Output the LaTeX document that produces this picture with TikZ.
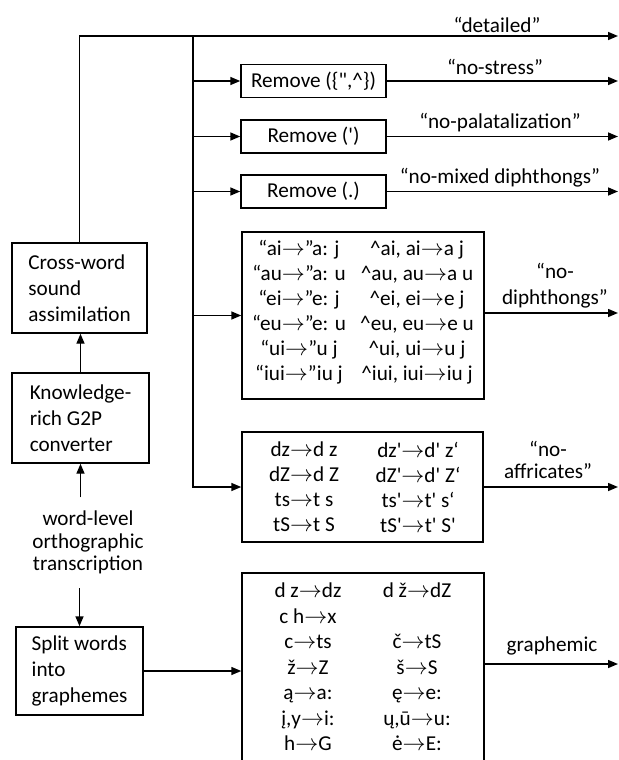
\documentclass[tikz,border=0pt]{standalone}
\usepackage{fontspec}
\setmainfont{Carlito}[Ligatures=TeXOff]
\usetikzlibrary{arrows.meta}
\newcommand{\rarr}{$\rightarrow$}

\begin{document}
\begin{tikzpicture}[x=0.75pt,y=-0.75pt,>={Triangle[length=7.5pt,width=6pt]},line width=1.1pt,
	every node/.style={font=\fontsize{15.9pt}{19.5pt}\selectfont},
	box/.style={draw,inner sep=0pt},
	lbox/.style={box,align=left,minimum height=67.5pt},
	rbox/.style={box,minimum width=108.75pt,minimum height=25pt},
	rules/.style={align=center,inner sep=0pt,font=\fontsize{15.9pt}{18.75pt}\selectfont},
	lab/.style={inner sep=0pt,anchor=base}]
	\useasboundingbox (0,0) rectangle (618,760);
	\clip (0,0) rectangle (618,760);
	% left column
	\node[lbox,minimum width=101.25pt] (cross) at (79.5,288) {Cross-word\\sound\\assimilation};
	\node[lbox,minimum width=102.75pt] (know) at (80.5,418) {Knowledge-\\rich G2P\\converter};
	\node[font=\fontsize{15.9pt}{16.9pt}\selectfont,align=center,inner xsep=0pt,inner ysep=9.75pt] (wl) at (88,542.7) {word-level\\orthographic\\transcription};
	\node[lbox,minimum width=95.25pt,minimum height=66pt] (split) at (79.5,671) {Split words\\into\\graphemes};
	% rule boxes
	\node[rbox] (rm1) at (313.5,81) {Remove (\{",\textasciicircum\})};
	\node[rbox] (rm2) at (313.5,136.5) {Remove (')};
	\node[rbox] (rm3) at (313.5,191.5) {Remove (.)};
	\node[box,minimum width=181.5pt,minimum height=125.25pt] (diph) at (363,315.5) {};
	\node[rules] (diphL) at (299,312.5) {“ai\rarr”a: j\\“au\rarr”a: u\\“ei\rarr”e: j\\“eu\rarr”e: u\\“ui\rarr”u j\\“iui\rarr”iu j};
	\node[rules] (diphR) at (417,312.5) {\textasciicircum ai, ai\rarr a j\\\textasciicircum au, au\rarr a u\\\textasciicircum ei, ei\rarr e j\\\textasciicircum eu, eu\rarr e u\\\textasciicircum ui, ui\rarr u j\\\textasciicircum iui, iui\rarr iu j};
	\node[box,minimum width=180.75pt,minimum height=82.5pt] (aff) at (362.5,487) {};
	\node[rules] (affL) at (304,487) {dz\rarr d z\\dZ\rarr d Z\\ts\rarr t s\\tS\rarr t S};
	\node[rules] (affR) at (418,487) {dz'\rarr d' z‘\\dZ'\rarr d' Z‘\\ts'\rarr t' s‘\\tS'\rarr t' S'};
	\node[box,minimum width=181.5pt,minimum height=150pt] (gra) at (363,673) {};
	\node[rules,font=\fontsize{15.9pt}{19.1pt}\selectfont] (graL) at (308,667) {d z\rarr dz\\c h\rarr x\\c\rarr ts\\ž\rarr Z\\ą\rarr a:\\į,y\rarr i:\\h\rarr G};
	\node[rules,font=\fontsize{15.9pt}{19.1pt}\selectfont] (graR) at (417,667) {d ž\rarr dZ\\\mbox{}\\č\rarr tS\\š\rarr S\\ę\rarr e:\\ų,ū\rarr u:\\ė\rarr E:};
	% output labels
	\node[lab] (det) at (497,32) {“detailed”};
	\node[lab] (nst) at (495,74) {“no-stress”};
	\node[lab] (npal) at (500,128) {“no-palatalization”};
	\node[lab] (nmix) at (500,183) {“no-mixed diphthongs”};
	\node[align=center,inner sep=0pt,anchor=south] (ndiph) at (555,308.5) {“no-\\diphthongs”};
	\node[align=center,inner sep=0pt,anchor=south,font=\fontsize{15.9pt}{16.5pt}\selectfont] (naff) at (548,479) {“no-\\affricates”};
	\node[lab] (ngra) at (552,651) {graphemic};
	\coordinate (trunk) at (193,36);
	\coordinate (oD) at (618,36);
	\coordinate (oN) at (618,313);
	\coordinate (oG) at (618,664);
	% connectors
	\draw[->] (cross.north) |- (oD);
	\draw[->] (trunk) |- (aff.west);
	\foreach \b in {rm1,rm2,rm3,diph}
		\draw[->] (trunk |- \b.west) -- (\b.west);
	\foreach \b in {rm1,rm2,rm3,aff}
		\draw[->] (\b.east) -- (\b.east -| oD);
	\draw[->] (diph.east |- oN) -- (oN);
	\draw[->] (gra.east |- oG) -- (oG);
	\draw[->] (know.north) -- (know.north |- cross.south);
	\draw[->] (wl.north -| know.south) -- (know.south);
	\draw[->] (wl.south -| split.north) -- (split.north);
	\draw[->] (split.east) -- (split.east -| gra.west);
\end{tikzpicture}
\end{document}
